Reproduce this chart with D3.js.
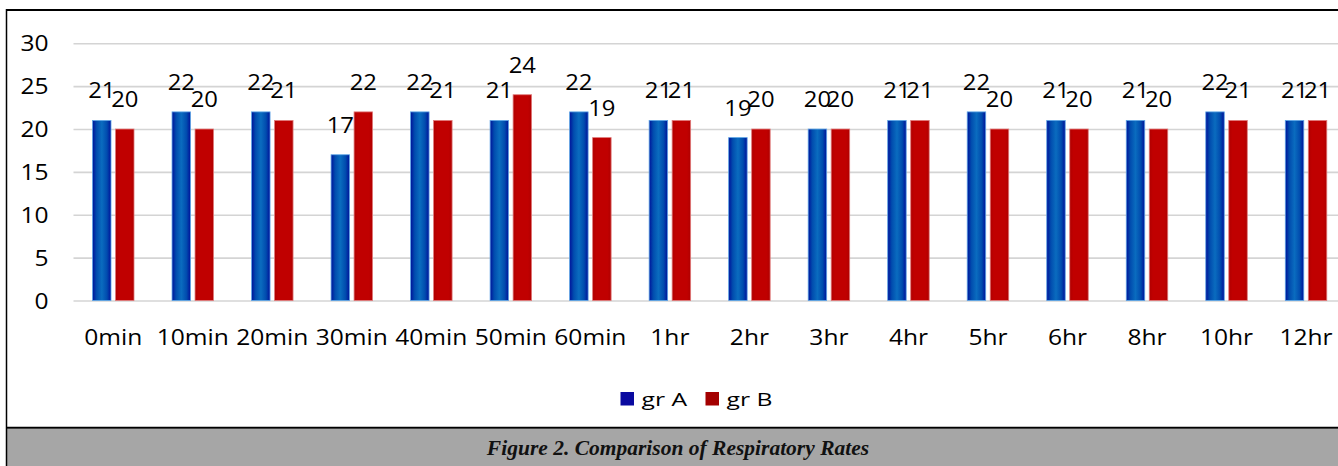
<!DOCTYPE html>
<html>
<head>
<meta charset="utf-8">
<script src="https://cdn.jsdelivr.net/npm/d3@7"></script>
<style>
  html, body { margin: 0; padding: 0; background: #fff; }
  svg { display: block; }
</style>
</head>
<body>
<svg id="chart" width="1338" height="466"></svg>
<script>
// Respiratory rate per time point, two groups
const categories = ["0min", "10min", "20min", "30min", "40min", "50min", "60min",
                    "1hr", "2hr", "3hr", "4hr", "5hr", "6hr", "8hr", "10hr", "12hr"];
const groupA = [21, 22, 22, 17, 22, 21, 22, 21, 19, 20, 21, 22, 21, 21, 22, 21];
const groupB = [20, 20, 21, 22, 21, 24, 19, 21, 20, 20, 21, 20, 20, 20, 21, 21];
const seriesNames = ["gr A", "gr B"];
const yTicks = [0, 5, 10, 15, 20, 25, 30];
const captionText = "Figure 2. Comparison of Respiratory Rates";

const W = 1338, H = 466;
const svg = d3.select("#chart");
const font = "'Open Sans', sans-serif";

// gradients for the bar fills
const defs = svg.append("defs");
const gBlue = defs.append("linearGradient").attr("id", "gradA")
  .attr("x1", "0%").attr("x2", "100%").attr("y1", "0%").attr("y2", "0%");
[["0%", "#00129a"], ["22%", "#014cae"], ["50%", "#0a6cbf"], ["78%", "#014cae"], ["100%", "#00129a"]]
  .forEach(([o, c]) => gBlue.append("stop").attr("offset", o).attr("stop-color", c));
const gRed = defs.append("linearGradient").attr("id", "gradB")
  .attr("x1", "0%").attr("x2", "100%").attr("y1", "0%").attr("y2", "0%");
[["0%", "#b00000"], ["20%", "#c00000"], ["80%", "#c00000"], ["100%", "#b00000"]]
  .forEach(([o, c]) => gRed.append("stop").attr("offset", o).attr("stop-color", c));
const fills = ["url(#gradA)", "url(#gradB)"];
const strokes = ["#5ea6e6", "#e07a7a"];
const legendColors = ["#0a0aa0", "#a40000"];

// scales
const plotLeft = 73.5, plotRight = 1345.8;
const x0 = d3.scaleBand().domain(categories).range([plotLeft, plotRight]).padding(0);
const x1 = d3.scaleBand().domain(seriesNames).range([-20.75, 20.75]).paddingInner(0.196);
const y = d3.scaleLinear().domain([0, 30]).range([300.5, 43.3]);

// horizontal gridlines with y tick labels
const ySx = 1.17;
const yAxis = svg.append("g").attr("transform", `translate(${plotLeft},0)`)
  .call(d3.axisLeft(y).tickValues(yTicks).tickSize(-(W - plotLeft)).tickFormat(d3.format("d")));
yAxis.select(".domain").remove();
yAxis.selectAll(".tick line").attr("stroke", "#d4d4d4").attr("stroke-width", 1.6);
yAxis.selectAll(".tick text")
  .attr("font-family", font).attr("font-size", 21).attr("fill", "#000")
  .attr("x", -25 / ySx).attr("dy", "0.36em")
  .attr("transform", `scale(${ySx},1)`);

// category axis labels
const xSx = 1.17;
const xAxis = svg.append("g").attr("transform", `translate(0,${y(0)})`)
  .call(d3.axisBottom(x0).tickSize(0));
xAxis.select(".domain").remove();
xAxis.selectAll(".tick text")
  .attr("font-family", font).attr("font-size", 21).attr("fill", "#000")
  .attr("y", 44.5).attr("dy", 0)
  .attr("transform", `scale(${xSx},1)`);

// bars
const rows = categories.map((c, i) => ({ cat: c, vals: [groupA[i], groupB[i]] }));
const groups = svg.append("g").selectAll("g.cat").data(rows).join("g")
  .attr("class", "cat")
  .attr("transform", d => `translate(${x0(d.cat) + x0.bandwidth() / 2},0)`);

groups.selectAll("rect").data(d => d.vals.map((v, k) => ({ v, k }))).join("rect")
  .attr("x", d => x1(seriesNames[d.k]))
  .attr("width", x1.bandwidth())
  .attr("y", d => y(d.v))
  .attr("height", d => y(0) - y(d.v))
  .attr("fill", d => fills[d.k])
  .attr("stroke", d => strokes[d.k])
  .attr("stroke-width", 0.8);

// value labels above each bar
const lblSx = 1.06;
groups.selectAll("g.lbl").data(d => d.vals.map((v, k) => ({ v, k }))).join("g")
  .attr("class", "lbl")
  .attr("transform", d => `translate(${x1(seriesNames[d.k]) + x1.bandwidth() / 2},${y(d.v) - 22})`)
  .append("text")
  .attr("text-anchor", "middle")
  .attr("font-family", font).attr("font-size", 22.5).attr("fill", "#000")
  .attr("transform", `scale(${lblSx},1)`)
  .text(d => d.v);

// legend
const legX = [620.5, 705.5];
const leg = svg.append("g").selectAll("g").data(seriesNames).join("g")
  .attr("transform", (d, i) => `translate(${legX[i]},392)`);
leg.append("rect").attr("width", 13.5).attr("height", 13.5)
  .attr("fill", (d, i) => legendColors[i]);
leg.append("text")
  .attr("x", 21 / 1.3).attr("y", 13.5)
  .attr("font-family", font).attr("font-size", 19).attr("fill", "#000")
  .attr("transform", "scale(1.3,1)")
  .text(d => d);

// frame and caption band
svg.append("rect").attr("x", 7).attr("y", 429).attr("width", W - 7).attr("height", H - 429)
  .attr("fill", "#a6a6a6");
svg.append("line").attr("x1", 6).attr("x2", W).attr("y1", 10).attr("y2", 10)
  .attr("stroke", "#000").attr("stroke-width", 2);
svg.append("line").attr("x1", 6).attr("x2", W).attr("y1", 427.7).attr("y2", 427.7)
  .attr("stroke", "#000").attr("stroke-width", 2);
svg.append("line").attr("x1", 6.5).attr("x2", 6.5).attr("y1", 9).attr("y2", H)
  .attr("stroke", "#000").attr("stroke-width", 1.5);

svg.append("text")
  .attr("x", 678).attr("y", 455)
  .attr("text-anchor", "middle")
  .attr("font-family", "'Liberation Serif', serif")
  .attr("font-size", 21.5).attr("font-weight", "bold").attr("font-style", "italic")
  .attr("fill", "#111")
  .text(captionText);
</script>
</body>
</html>
